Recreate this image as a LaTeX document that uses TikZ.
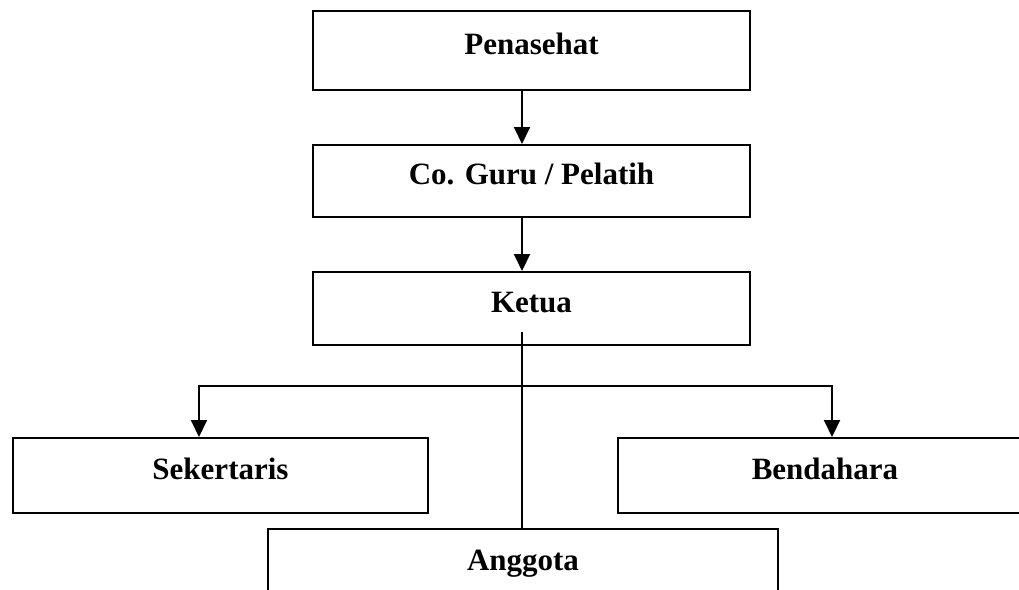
\documentclass[tikz,border=0pt]{standalone}
\usepackage{fontspec}
\setmainfont{Liberation Serif}
\usetikzlibrary{arrows.meta,calc}
\begin{document}
\begin{tikzpicture}[x=1pt,y=-1pt,
  box/.style={draw=black, line width=2pt, inner sep=0pt, anchor=north west,
    font=\fontsize{31}{37}\selectfont\bfseries, text height=22pt, text depth=15pt},
  conn/.style={draw=black, line width=2pt},
  arr/.style={conn, -{Triangle[length=17pt,width=16pt]}},
  arrboth/.style={conn, line join=miter, {Triangle[length=17pt,width=16pt]}-{Triangle[length=17pt,width=16pt]}}]
\useasboundingbox (0,0) rectangle (1019,589);
\node[box, minimum width=437pt, minimum height=79pt] (pen) at (312,10) {Penasehat};
\node[box, minimum width=437pt, minimum height=72pt] (co) at (312,144) {Co. Guru / Pelatih};
\node[box, minimum width=437pt, minimum height=73pt] (ket) at (312,271) {Ketua};
\node[box, minimum width=415pt, minimum height=75pt] (sek) at (12,437) {Sekertaris};
\node[box, minimum width=414pt, minimum height=75pt] (bend) at (617,437) {Bendahara};
\node[box, minimum width=510pt, minimum height=75pt] (ang) at (267,528) {Anggota};
\coordinate (kstart) at (522,332);
\coordinate (sekin) at (199,386);
\coordinate (bendin) at (832,386);
\draw[arr] (pen.south -| kstart) -- (co.north -| kstart);
\draw[arr] (co.south -| kstart) -- (ket.north -| kstart);
\draw[conn] (kstart) -- (ang.north -| kstart);
\draw[arrboth] (sek.north -| sekin) -- (sekin) -- (bendin) -- (bend.north -| bendin);
\end{tikzpicture}
\end{document}
